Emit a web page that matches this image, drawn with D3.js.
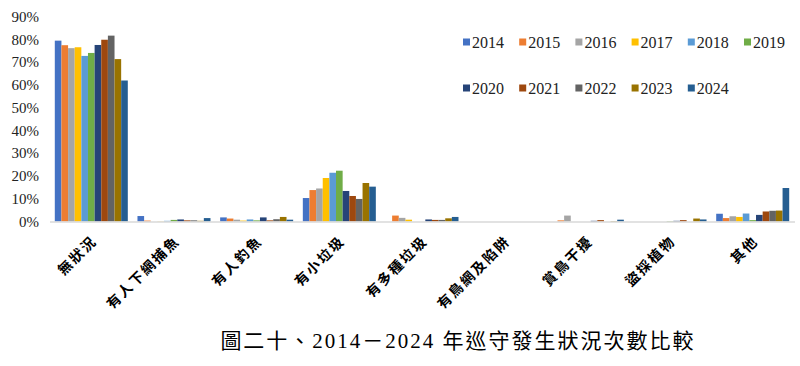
<!DOCTYPE html>
<html lang="zh-Hant">
<head>
  <meta charset="UTF-8">
  <title>巡守發生狀況次數比較</title>
  <script src="https://d3js.org/d3.v7.min.js"></script>
  <style>
    body { margin: 0; padding: 0; background: #fff; }
    svg { display: block; }
    .tick text { font-family: "Liberation Serif", "Times New Roman", "DejaVu Serif", serif; font-size: 15px; fill: #222; }
    .cat text { font-family: "Noto Sans CJK TC", sans-serif; font-size: 14px; font-weight: bold; letter-spacing: 2px; fill: #000; }
    .legend text { font-family: "Liberation Serif", "Times New Roman", "DejaVu Serif", serif; font-size: 16px; fill: #222; }
    .title { font-family: "Liberation Serif", "Times New Roman", "Noto Sans CJK TC", serif; font-size: 21px; letter-spacing: 2px; fill: #000; }
  </style>
</head>
<body>
<svg id="chart" width="800" height="366"></svg>

<script>
  const categories = ["無狀況", "有人下網捕魚", "有人釣魚", "有小垃圾", "有多種垃圾", "有鳥網及陷阱", "賞鳥干擾", "盜採植物", "其他"];
  const years = ["2014", "2015", "2016", "2017", "2018", "2019", "2020", "2021", "2022", "2023", "2024"];
  const colors = ["#4472C4", "#ED7D31", "#A5A5A5", "#FFC000", "#5B9BD5", "#70AD47", "#264478", "#9E480E", "#636363", "#997300", "#255E91"];
  const yTicks = [0, 0.1, 0.2, 0.3, 0.4, 0.5, 0.6, 0.7, 0.8, 0.9];

  // percent per category, one row per year
  const v2014 = [79.4, 2.4, 1.8, 10.3, 0.0, 0, 0.0, 0.0, 3.4];
  const v2015 = [77.4, 0.4, 1.3, 13.8, 2.6, 0, 0.5, 0.0, 1.5];
  const v2016 = [76.1, 0.0, 0.8, 14.5, 1.6, 0, 2.6, 0.0, 2.3];
  const v2017 = [76.5, 0.1, 0.4, 19.1, 0.8, 0, 0.0, 0.0, 2.0];
  const v2018 = [72.7, 0.3, 0.9, 21.4, 0.0, 0, 0.0, 0.0, 3.5];
  const v2019 = [74.0, 0.7, 0.5, 22.3, 0.0, 0, 0.0, 0.2, 0.6];
  const v2020 = [77.5, 0.9, 1.8, 13.4, 0.9, 0, 0.3, 0.3, 2.9];
  const v2021 = [79.8, 0.5, 0.5, 11.2, 0.7, 0, 0.6, 0.6, 4.4];
  const v2022 = [81.6, 0.5, 1.0, 9.9, 0.7, 0, 0.0, 0.0, 4.7];
  const v2023 = [71.3, 0.3, 2.0, 16.9, 1.4, 0, 0.2, 1.3, 4.8];
  const v2024 = [61.9, 1.5, 0.8, 15.3, 2.0, 0, 0.8, 0.9, 14.7];
  const values = [v2014, v2015, v2016, v2017, v2018, v2019, v2020, v2021, v2022, v2023, v2024];

  const svg = d3.select("#chart");

  const x = d3.scaleBand().domain(categories).range([50, 794]).paddingInner(0.117).paddingOuter(0.058);
  const xs = d3.scaleBand().domain(years).range([0, x.bandwidth()]);
  const y = d3.scaleLinear().domain([0, 0.9]).range([221.5, 16.5]);

  // y axis labels only
  const yAxis = svg.append("g")
      .attr("transform", "translate(39,0)")
      .call(d3.axisLeft(y).tickValues(yTicks).tickFormat(d3.format(".0%")).tickSize(0).tickPadding(0));
  yAxis.attr("font-family", null);
  yAxis.select(".domain").remove();

  // bars
  const rows = [];
  categories.forEach((c, ci) => {
    years.forEach((yr, yi) => rows.push({ cat: c, year: yr, idx: yi, v: values[yi][ci] / 100 }));
  });

  svg.append("g")
    .selectAll("rect")
    .data(rows)
    .enter().append("rect")
      .attr("x", d => x(d.cat) + xs(d.year))
      .attr("y", d => y(d.v))
      .attr("width", xs.bandwidth())
      .attr("height", d => y(0) - y(d.v))
      .attr("fill", d => colors[d.idx]);

  // category axis line
  svg.append("line")
      .attr("x1", 50).attr("x2", 795)
      .attr("y1", y(0) + 0.5).attr("y2", y(0) + 0.5)
      .attr("stroke", "#d9d9d9").attr("stroke-width", 1.5);

  // category labels, rotated
  const cat = svg.append("g").attr("class", "cat");
  cat.selectAll("text")
    .data(categories)
    .enter().append("text")
      .attr("transform", d => `translate(${x(d) + x.bandwidth() / 2 + 3},${y(0) + 17}) rotate(-45)`)
      .attr("text-anchor", "end")
      .attr("dy", "0.35em")
      .text(d => d);

  // legend
  const legend = svg.append("g").attr("class", "legend");
  years.forEach((yr, i) => {
    const col = i < 6 ? i : i - 6;
    const row = i < 6 ? 0 : 1;
    const lx = 463 + col * 56.2;
    const ly = 42 + row * 46;
    legend.append("rect")
        .attr("x", lx).attr("y", ly - 3.5)
        .attr("width", 7).attr("height", 7)
        .attr("fill", colors[i]);
    legend.append("text")
        .attr("x", lx + 9).attr("y", ly)
        .attr("dy", "0.35em")
        .text(yr);
  });

  // caption
  svg.append("text")
      .attr("class", "title")
      .attr("x", 458).attr("y", 348)
      .attr("text-anchor", "middle")
      .text("圖二十、2014－2024 年巡守發生狀況次數比較");
</script>
</body>
</html>
